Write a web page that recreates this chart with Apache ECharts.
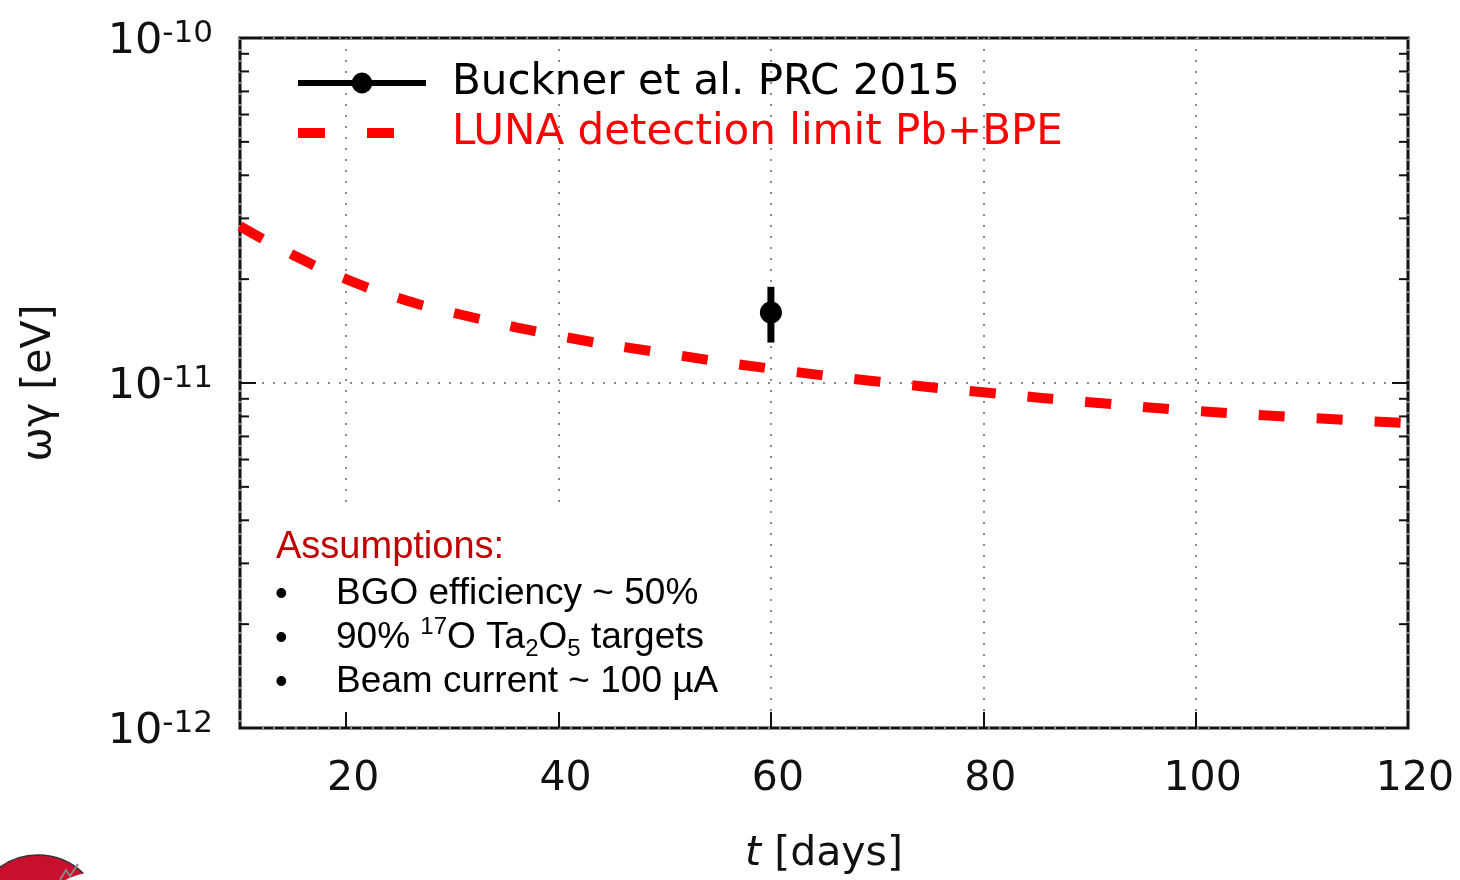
<!DOCTYPE html>
<html>
<head>
<meta charset="utf-8">
<script src="https://cdn.jsdelivr.net/npm/echarts@6/dist/echarts.min.js"></script>
<style>
  html, body { margin: 0; padding: 0; background: #fff; }
  #chart { width: 1460px; height: 880px; }
</style>
</head>
<body>
<div id="chart"></div>
<script>
// detection limit curve (t in days, omega-gamma in eV)
const days = [10, 15, 20, 25, 30, 40, 50, 60, 70, 80, 90, 100, 110, 120];
const lunaLimit = [2.85e-11, 2.35e-11, 2.0e-11, 1.76e-11, 1.6e-11, 1.37e-11, 1.22e-11,
  1.10e-11, 1.01e-11, 9.4e-12, 8.8e-12, 8.3e-12, 7.95e-12, 7.65e-12];

// Buckner et al. point with error bar
const bucknerT = [60];
const bucknerWg = [1.6e-11];
const bucknerLow = [1.31e-11];
const bucknerHigh = [1.9e-11];

// minor ticks of the log axis
const minorTicks = [2e-12, 3e-12, 4e-12, 5e-12, 6e-12, 7e-12, 8e-12, 9e-12,
  2e-11, 3e-11, 4e-11, 5e-11, 6e-11, 7e-11, 8e-11, 9e-11];

const names = ['Buckner et al. PRC 2015', 'LUNA detection limit Pb+BPE'];

const myChart = echarts.init(document.getElementById('chart'));

const tickStyle = { color: '#111', width: 2 };
const gridDots = { color: '#888', type: [2, 9], width: 2 };

myChart.setOption({
  animation: false,
  textStyle: { fontFamily: 'DejaVu Sans', color: '#111' },
  grid: {
    left: 240, right: 52, top: 38, bottom: 152,
    show: true, borderColor: '#111', borderWidth: 3
  },
  legend: {
    left: 293, top: 60, orient: 'vertical', padding: 0,
    itemWidth: 128, itemHeight: 26, itemGap: 4,
    textStyle: { fontSize: 42, lineHeight: 46, fontFamily: 'DejaVu Sans', padding: [0, 0, 0, 21] },
    data: [
      { name: names[0], textStyle: { color: '#000' },
        lineStyle: { width: 6, color: '#000' } },
      { name: names[1], textStyle: { color: '#ff0000' },
        itemStyle: { color: 'rgba(0,0,0,0)', borderWidth: 0 },
        lineStyle: { width: 10, color: '#ff0000', type: [27, 42] } }
    ]
  },
  xAxis: {
    type: 'value', min: 10, max: 120, splitNumber: 6,
    name: '{i|t} [days]', nameLocation: 'middle', nameGap: 106,
    nameTextStyle: {
      fontSize: 41, color: '#111',
      rich: { i: { fontSize: 41, fontStyle: 'italic', color: '#111' } }
    },
    axisLine: { show: false },
    axisTick: { inside: true, length: 16, lineStyle: tickStyle },
    axisLabel: { fontSize: 41, margin: 31, color: '#111', showMinLabel: false,
      padding: [0, 0, 0, 14],
      formatter: v => (v === 10 ? '' : String(v)) },
    splitLine: { show: true, lineStyle: gridDots }
  },
  yAxis: [{
    type: 'log', logBase: 10, min: 1e-12, max: 1e-10,
    name: 'ωγ [eV]', nameLocation: 'middle', nameRotate: 90, nameGap: 180,
    nameTextStyle: { fontSize: 41, color: '#111' },
    axisLine: { show: false },
    axisTick: { inside: true, length: 16, lineStyle: tickStyle },
    axisLabel: {
      margin: 27,
      formatter: v => '{b|10}{s|' + Math.round(Math.log10(v)) + '}',
      rich: {
        b: { fontSize: 43, lineHeight: 40, padding: [8, 0, 0, 0], color: '#111' },
        s: { fontSize: 31, lineHeight: 30, verticalAlign: 'top', color: '#111' }
      }
    },
    splitLine: { show: true, lineStyle: gridDots }
  }, {
    type: 'log', logBase: 10, min: 1e-12, max: 1e-10, position: 'right',
    axisLine: { show: false },
    axisTick: { inside: true, length: 16, lineStyle: tickStyle },
    axisLabel: { show: false },
    splitLine: { show: false }
  }],
  graphic: [
    {
      type: 'rect', z: 1, silent: true,
      shape: { x: 254, y: 508, width: 484, height: 203 },
      style: { fill: '#fff' }
    },
    {
      type: 'text', z: 5, left: 276, top: 529,
      style: { text: 'Assumptions:', fontSize: 38, fontFamily: 'Liberation Sans', fill: '#c00000' }
    },
    {
      type: 'text', z: 5, left: 275, top: 573,
      style: {
        text: '•\n•\n•', fontSize: 36, lineHeight: 44, fontFamily: 'Liberation Sans', fill: '#000'
      }
    },
    {
      type: 'text', z: 5, left: 336, top: 575,
      style: { text: 'BGO efficiency ~ 50%', fontSize: 37, fontFamily: 'Liberation Sans', fill: '#000' }
    },
    {
      type: 'text', z: 5, left: 336, top: 615,
      style: {
        text: '{t|90% }{p|17}{t|O Ta}{d|2}{t|O}{d|5}{t| targets}',
        fontFamily: 'Liberation Sans', fill: '#000',
        rich: {
          t: { fontSize: 37, lineHeight: 46, fontFamily: 'Liberation Sans' },
          p: { fontSize: 24, lineHeight: 30, verticalAlign: 'top', fontFamily: 'Liberation Sans' },
          d: { fontSize: 24, lineHeight: 26, verticalAlign: 'bottom', fontFamily: 'Liberation Sans' }
        }
      }
    },
    {
      type: 'text', z: 5, left: 336, top: 663,
      style: { text: 'Beam current ~ 100 µA', fontSize: 37, fontFamily: 'Liberation Sans', fill: '#000' }
    },
    // logo fragment at the bottom left
    {
      type: 'circle', silent: true, z: 5,
      shape: { cx: 38, cy: 920, r: 65 },
      style: { fill: '#c8102e', stroke: '#333', lineWidth: 1.5 }
    },
    {
      type: 'circle', silent: true, z: 6,
      shape: { cx: 98, cy: 942, r: 70 },
      style: { fill: '#fff' }
    },
    {
      type: 'polyline', silent: true, z: 7,
      shape: { points: [[60, 880], [66, 870], [70, 876], [78, 864]] },
      style: { stroke: '#888', lineWidth: 2, fill: null }
    }
  ],
  series: [
    {
      name: names[1], type: 'line', smooth: true, symbol: 'none', z: 3,
      data: days.map((d, i) => [d, lunaLimit[i]]),
      lineStyle: { color: '#ff0000', width: 10, type: [26, 32] },
      itemStyle: { color: '#ff0000' }
    },
    {
      name: 'errorbar', type: 'custom', z: 4,
      data: bucknerT.map((t, i) => [t, bucknerLow[i], bucknerHigh[i]]),
      encode: { x: 0, y: [1, 2] },
      renderItem(params, api) {
        const lo = api.coord([api.value(0), api.value(1)]);
        const hi = api.coord([api.value(0), api.value(2)]);
        return {
          type: 'line',
          shape: { x1: lo[0], y1: lo[1], x2: hi[0], y2: hi[1] },
          style: { stroke: '#000', lineWidth: 7 }
        };
      }
    },
    {
      name: names[0], type: 'line', z: 5,
      data: bucknerT.map((t, i) => [t, bucknerWg[i]]),
      symbol: 'circle', symbolSize: 22,
      itemStyle: { color: '#000' },
      lineStyle: { color: '#000', width: 6 }
    },
    {
      name: 'minor', type: 'custom', z: 4, silent: true,
      data: minorTicks.map(v => [10, v]),
      encode: { x: 0, y: 1 },
      renderItem(params, api) {
        const p = api.coord([api.value(0), api.value(1)]);
        const cs = params.coordSys;
        return {
          type: 'group',
          children: [
            { type: 'line', shape: { x1: cs.x, y1: p[1], x2: cs.x + 9, y2: p[1] },
              style: { stroke: '#111', lineWidth: 2 } },
            { type: 'line', shape: { x1: cs.x + cs.width - 9, y1: p[1], x2: cs.x + cs.width, y2: p[1] },
              style: { stroke: '#111', lineWidth: 2 } }
          ]
        };
      }
    }
  ]
});
</script>
</body>
</html>
